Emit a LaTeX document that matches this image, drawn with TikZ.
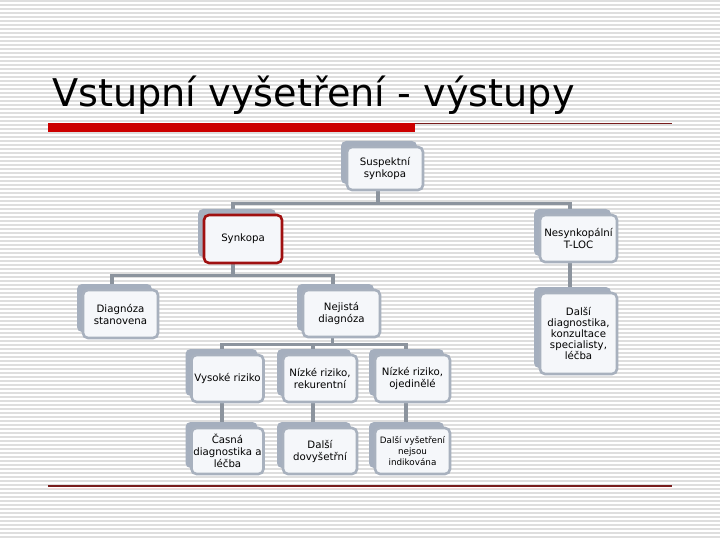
\documentclass[tikz,border=0pt]{standalone}
\usepackage{fontspec}
\setmainfont{DejaVu Sans}
\usetikzlibrary{shadows,backgrounds}
\definecolor{stripe}{RGB}{222,222,222}
\definecolor{boxline}{RGB}{168,177,190}
\definecolor{boxfill}{RGB}{245,247,250}
\definecolor{shadowcol}{RGB}{165,175,190}
\definecolor{conncol}{RGB}{140,148,158}
\definecolor{titlered}{RGB}{204,0,0}
\definecolor{darkred}{RGB}{120,28,28}
\definecolor{synred}{RGB}{160,16,16}
\definecolor{pinkline}{RGB}{245,215,215}
\begin{document}
\begin{tikzpicture}[x=1pt,y=-1pt,
  box/.style={draw=boxline, line width=2.6pt, fill=boxfill, rounded corners=5pt,
    minimum width=74pt, minimum height=47pt, align=center, inner sep=1pt,
    font=\fontsize{10.2}{12}\selectfont,
    general shadow={fill=shadowcol, shadow xshift=-6pt, shadow yshift=6pt}},
  conn/.style={draw=conncol, line width=3.2pt}]
\useasboundingbox (0,0) rectangle (720,540);
% nodes
\node[box, minimum width=76pt, minimum height=43pt] (sus) at (385,168.5) {Suspektní\\synkopa};
\node[box, draw=synred, minimum width=78pt, minimum height=48pt] (syn) at (243,239) {Synkopa};
\node[box, minimum width=77pt] (nes) at (578.5,238.5) {Nesynkopální\\T-LOC};
\node[box, minimum width=75pt, minimum height=48pt] (dia) at (120.5,314) {Diagnóza\\stanovena};
\node[box, minimum width=77pt] (nej) at (341.5,313.5) {Nejistá\\diagnóza};
\node[box, minimum width=77pt, minimum height=81pt, font=\fontsize{10.2}{11}\selectfont] (dal) at (578.5,333.5) {Další\\diagnostika,\\konzultace\\specialisty,\\léčba};
\node[box, minimum width=72pt] (vys) at (227.5,378.5) {Vysoké riziko};
\node[box] (nz1) at (320,378.5) {Nízké riziko,\\rekurentní};
\node[box, minimum width=75pt] (nz2) at (412.5,378.5) {Nízké riziko,\\ojedinělé};
\node[box, minimum width=72pt, minimum height=46pt] (cas) at (227.5,451) {Časná\\diagnostika a\\léčba};
\node[box, minimum height=46pt] (dov) at (320,451) {Další\\dovyšetřní};
\node[box, minimum width=75pt, minimum height=46pt, font=\fontsize{8.8}{11}\selectfont] (nei) at (412.5,451) {Další vyšetření\\nejsou\\indikována};
\node[anchor=base west, inner sep=0pt, font=\fontsize{38.2}{46}\selectfont] (title) at (52,107) {Vstupní vyšetření - výstupy};
\begin{scope}[on background layer]
  \fill[white] (0,0) rectangle (720,540);
  \foreach \yy in {1,5,...,540} \draw[stripe, line width=1.3pt] (0,\yy) -- (720,\yy);
  \draw[titlered, line width=9pt] (48,127.5) -- (415,127.5);
  \draw[darkred, line width=0.9pt] (415,123.5) -- (672,123.5);
  \draw[pinkline, line width=1.5pt] (48,488.5) -- (672,488.5);
  \draw[darkred, line width=1.4pt] (48,486) -- (672,486);
  % connectors
  \draw[conn] ([xshift=-7pt]sus.south) -- ++(0,12) coordinate (b1);
  \draw[conn] ([xshift=-10pt]syn.north) |- (b1) -| ([xshift=-8.5pt]nes.north);
  \draw[conn] ([xshift=-10pt]syn.south) -- ++(0,11) coordinate (b2);
  \draw[conn] ([xshift=-8.5pt]dia.north) |- (b2) -| ([xshift=-8.5pt]nej.north);
  \draw[conn] ([xshift=-8.5pt]nes.south) -- ([xshift=-8.5pt]dal.north);
  \draw[conn] ([xshift=-9pt]nej.south) -- ++(0,6) coordinate (b3);
  \draw[conn] ([xshift=-5.5pt]vys.north) |- (b3) -| ([xshift=-6.5pt]nz2.north);
  \draw[conn] ([xshift=-7pt]nz1.north) -- ([xshift=-7pt]nz1.north |- b3);
  \draw[conn] ([xshift=-5.5pt]vys.south) -- ([xshift=-5.5pt]cas.north);
  \draw[conn] ([xshift=-7pt]nz1.south) -- ([xshift=-7pt]dov.north);
  \draw[conn] ([xshift=-6.5pt]nz2.south) -- ([xshift=-6.5pt]nei.north);
\end{scope}
\end{tikzpicture}
\end{document}
